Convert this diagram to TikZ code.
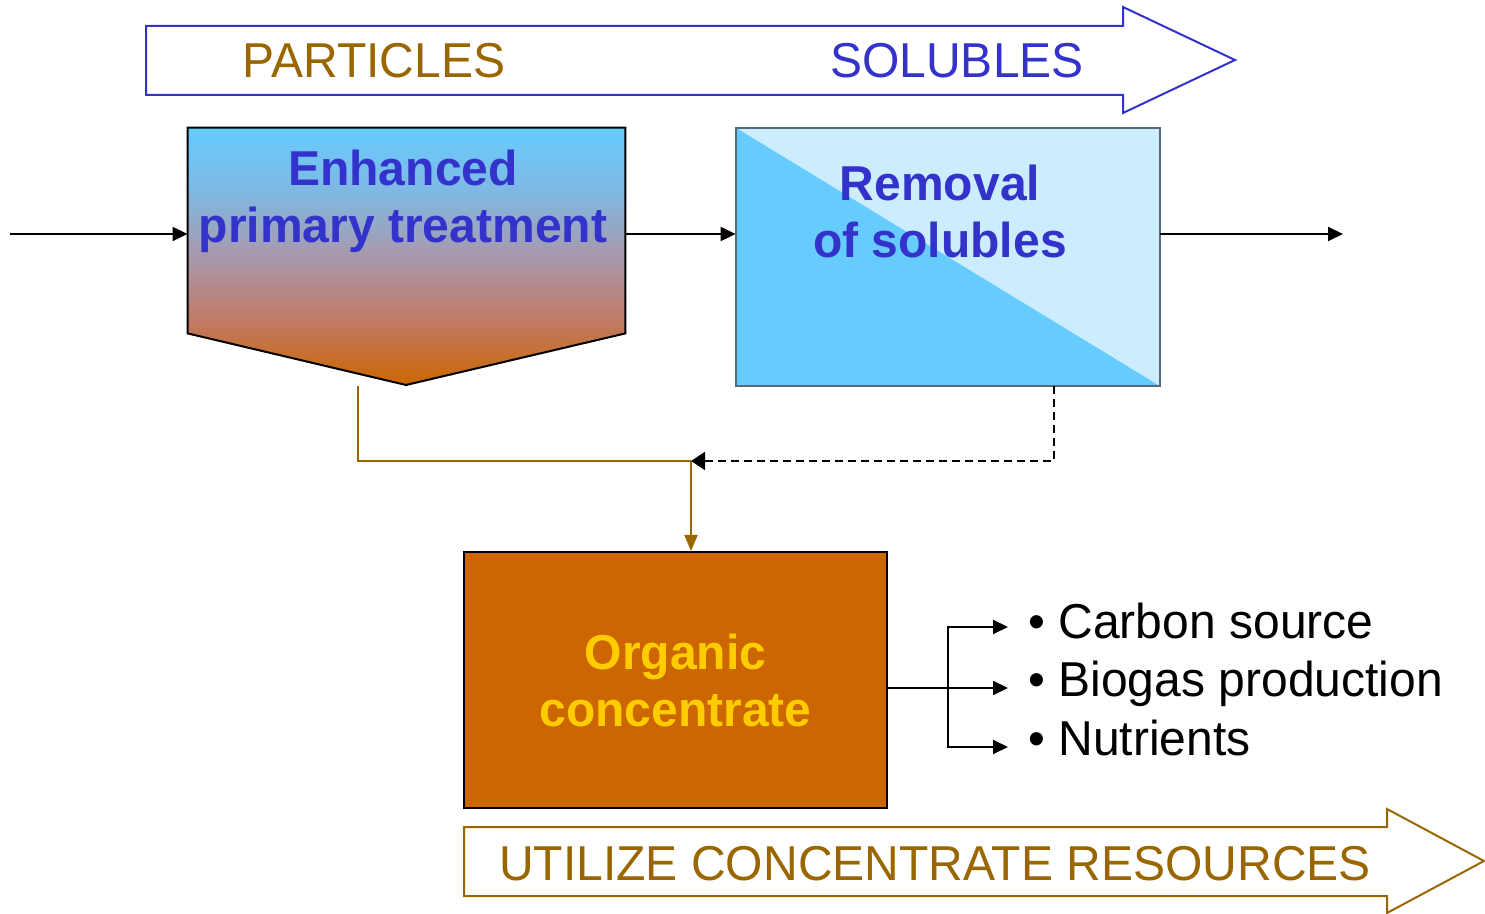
\documentclass[tikz,border=0pt]{standalone}
\usepackage{fontspec}
\setmainfont{Liberation Sans}[FakeStretch=0.98]
\usetikzlibrary{arrows.meta}
\definecolor{cblue}{RGB}{51,51,204}
\definecolor{cbrown}{RGB}{153,102,0}
\definecolor{corange}{RGB}{204,102,0}
\definecolor{cyellow}{RGB}{255,204,0}
\definecolor{sky}{RGB}{102,204,255}
\definecolor{palesky}{RGB}{204,236,255}
\definecolor{gradA}{RGB}{128,184,226}
\definecolor{gradB}{RGB}{168,152,172}
\definecolor{gradC}{RGB}{192,122,102}
\definecolor{boxgray}{RGB}{90,105,120}
\pgfdeclareverticalshading{eptgrad}{100bp}{color(0bp)=(corange); color(25bp)=(corange); color(37.5bp)=(gradC); color(50bp)=(gradB); color(62.5bp)=(gradA); color(75bp)=(sky); color(100bp)=(sky)}
\tikzset{
  bigtxt/.style={font=\fontsize{24.5}{28.5}\selectfont, inner sep=0pt},
  boldtxt/.style={font=\fontsize{24.5}{28.5}\selectfont\bfseries, inner sep=0pt, align=center},
  blk/.style={line width=1pt, -{Triangle[length=7.5pt,width=7pt]}},
  brn/.style={line width=1pt, draw=cbrown},
  dsh/.style={line width=0.9pt, dash pattern=on 4pt off 2.5pt, -{Triangle[length=7pt,width=9pt]}},
}
\begin{document}
\begin{tikzpicture}[x=0.5pt,y=-0.5pt]
\useasboundingbox (0,0) rectangle (1485,914);

% top arrow
\draw[cblue, line width=1pt, line join=miter] (146,26) -- (1123,26) -- (1123,7) -- (1235,60) -- (1123,113) -- (1123,95) -- (146,95) -- cycle;
\node[bigtxt, text=cbrown, anchor=base] (part) at (374,78) {PARTICLES};
\node[bigtxt, text=cblue, anchor=base] (sol) at (957,78) {SOLUBLES};

% enhanced primary treatment
\node[minimum width=218.5pt, minimum height=102.5pt, inner sep=0pt] (ept) at (406.5,230.5) {};
\coordinate (tip) at (406,385);
\shade[shading=eptgrad, draw=black, line width=1pt]
  (ept.north west) -- (ept.north east) -- (ept.south east) -- (tip) -- (ept.south west) -- cycle;
\node[boldtxt, text=cblue] (epttxt) at (403,201) {Enhanced\\primary treatment};

% removal of solubles
\node[minimum width=212pt, minimum height=129pt, inner sep=0pt, fill=palesky] (rem) at (948,257) {};
\fill[sky] (rem.north west) -- (rem.south east) -- (rem.south west) -- cycle;
\draw[boxgray, line width=1pt] (rem.north west) rectangle (rem.south east);
\node[boldtxt, text=cblue] (remtxt) at (940,211) {Removal\\of solubles};

% organic concentrate
\node[minimum width=211.5pt, minimum height=128pt, fill=corange, draw=black, line width=1pt,
      boldtxt, text=cyellow] (org) at (675.5,680) {Organic\\concentrate};

% main flow arrows
\coordinate (in) at (10,234);
\coordinate (out) at (1343,234);
\draw[blk] (in) -- (ept.west |- in);
\draw[blk] (ept.east |- in) -- (rem.west |- in);
\draw[blk] (rem.east |- in) -- (out);

% to concentrate
\coordinate (bstart) at (358,386);
\coordinate (j) at (691,461);
\coordinate (dstart) at (1054,386);
\draw[brn] (bstart) |- (j);
\draw[brn, -{Triangle[length=8pt,width=6.5pt]}, cbrown] (j) -- (j |- org.north);
\draw[dsh] (dstart) |- (j);

% outputs
\coordinate (fork) at (948,688);
\coordinate (t1) at (1008,627);
\coordinate (t2) at (1008,688);
\coordinate (t3) at (1008,747);
\draw[line width=1pt] (org.east |- fork) -- (fork);
\draw[blk] (fork) |- (t1);
\draw[blk] (fork) -- (t2);
\draw[blk] (fork) |- (t3);
\node[bigtxt, anchor=base west] (l1) at (1028,639) {• Carbon source};
\node[bigtxt, anchor=base west] (l2) at (1028,697) {• Biogas production};
\node[bigtxt, anchor=base west] (l3) at (1028,755) {• Nutrients};

% bottom arrow
\draw[cbrown, line width=1pt, line join=miter] (464,827) -- (1387,827) -- (1387,809) -- (1484,861) -- (1387,913) -- (1387,896) -- (464,896) -- cycle;
\node[bigtxt, text=cbrown, anchor=base] (util) at (935,880) {UTILIZE CONCENTRATE RESOURCES};
\end{tikzpicture}
\end{document}
